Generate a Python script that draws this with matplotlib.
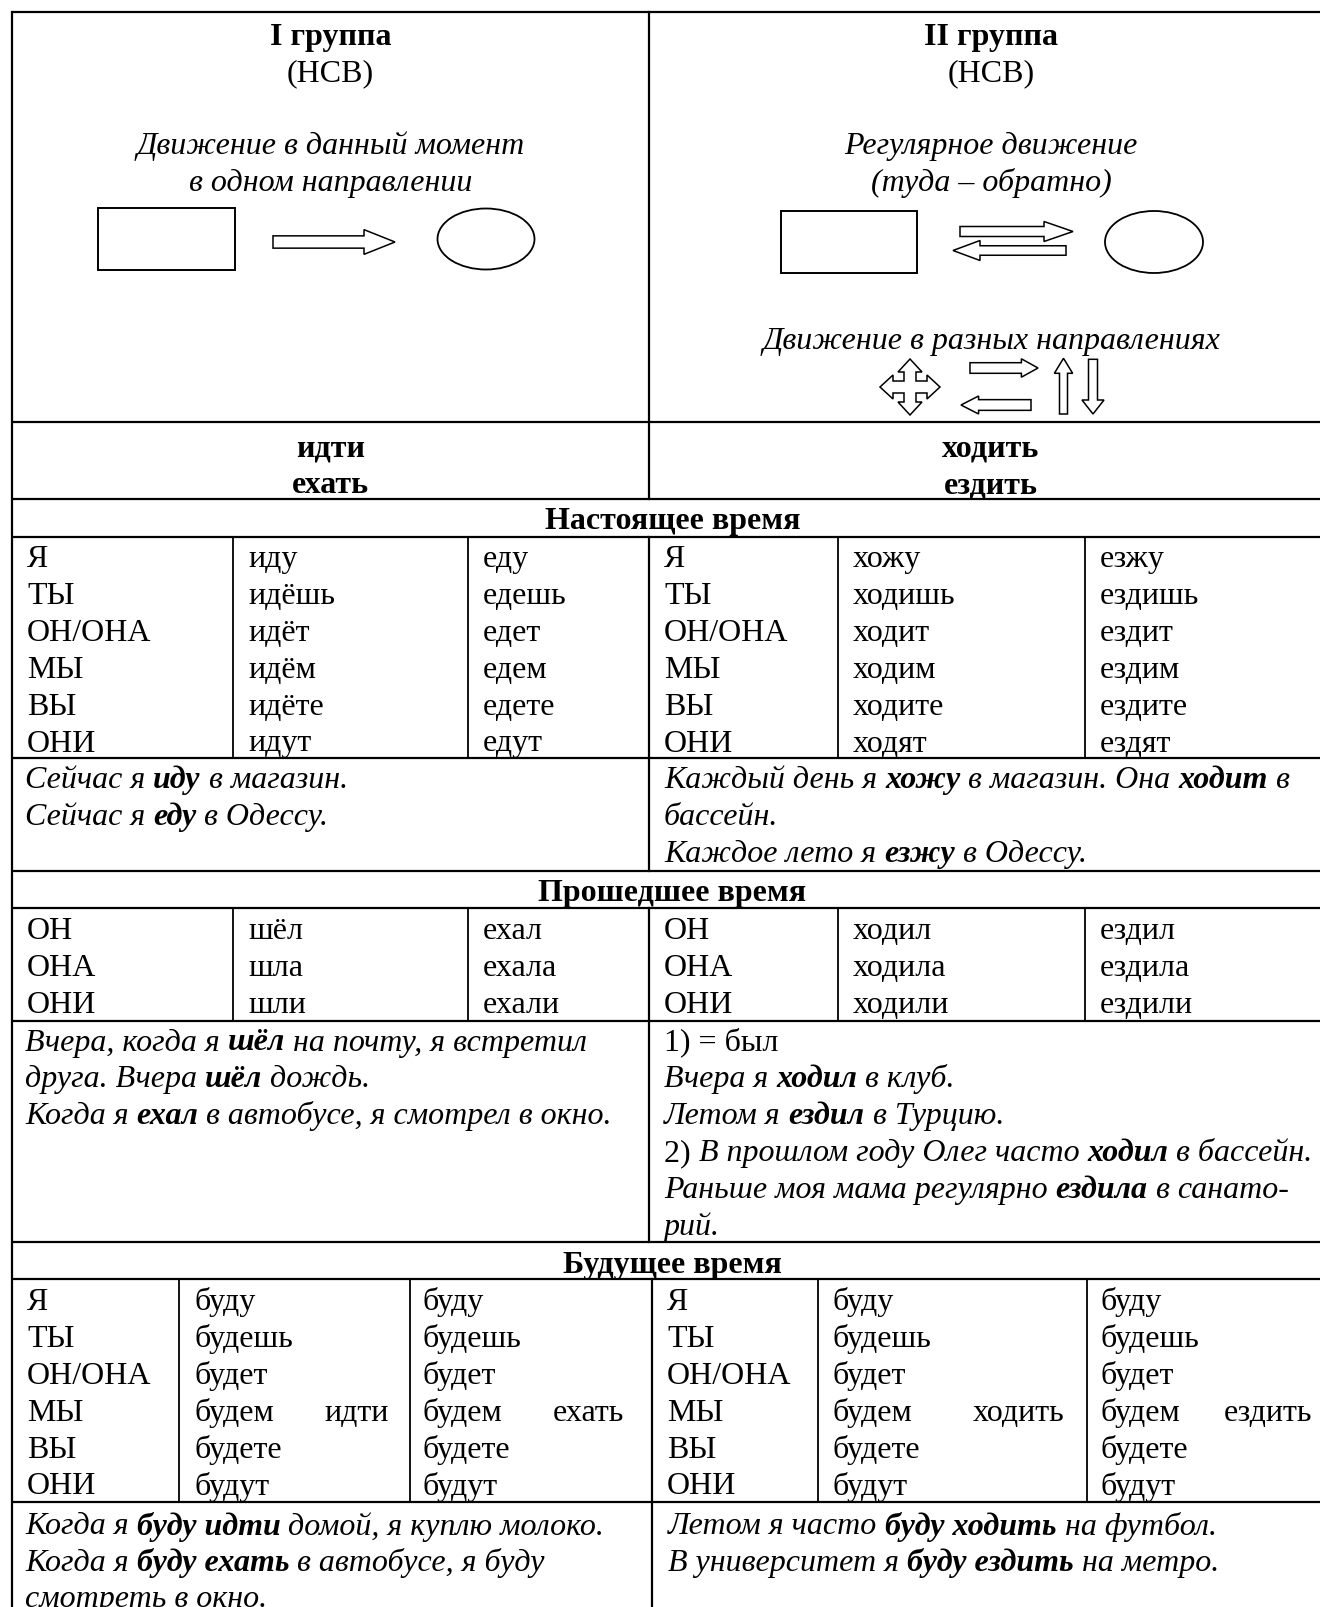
import matplotlib
matplotlib.use("Agg")
import matplotlib.pyplot as plt
from matplotlib import patches
from matplotlib.font_manager import FontProperties

W, H = 1320, 1607
FS = 23

# ---------------- data ----------------
group_titles = ["I группа", "II группа"]
aspect_label = "(НСВ)"
group_desc_left = ["Движение в данный момент", "в одном направлении"]
group_desc_right = ["Регулярное движение", "(туда – обратно)"]
multi_dir_label = "Движение в разных направлениях"
verbs_left = ["идти", "ехать"]
verbs_right = ["ходить", "ездить"]
tense_titles = ["Настоящее время", "Прошедшее время", "Будущее время"]

present_pronouns = ["Я", "ТЫ", "ОН/ОНА", "МЫ", "ВЫ", "ОНИ"]
present_idti = ["иду", "идёшь", "идёт", "идём", "идёте", "идут"]
present_ehat = ["еду", "едешь", "едет", "едем", "едете", "едут"]
present_hodit = ["хожу", "ходишь", "ходит", "ходим", "ходите", "ходят"]
present_ezdit = ["езжу", "ездишь", "ездит", "ездим", "ездите", "ездят"]

past_pronouns = ["ОН", "ОНА", "ОНИ"]
past_idti = ["шёл", "шла", "шли"]
past_ehat = ["ехал", "ехала", "ехали"]
past_hodit = ["ходил", "ходила", "ходили"]
past_ezdit = ["ездил", "ездила", "ездили"]

future_pronouns = ["Я", "ТЫ", "ОН/ОНА", "МЫ", "ВЫ", "ОНИ"]
future_aux = ["буду", "будешь", "будет", "будем", "будете", "будут"]
future_inf = ["идти", "ехать", "ходить", "ездить"]
future_inf_row = 3

# example sentences: (text, style)  i = italic, bi = bold italic, n = normal
present_ex_left = [[("Сейчас я ", "i"), ("иду", "bi"), (" в магазин.", "i")],
                   [("Сейчас я ", "i"), ("еду", "bi"), (" в Одессу.", "i")]]
present_ex_right = [[("Каждый день я ", "i"), ("хожу", "bi"), (" в магазин. Она ", "i"),
                     ("ходит", "bi"), (" в", "i")],
                    [("бассейн.", "i")],
                    [("Каждое лето я ", "i"), ("езжу", "bi"), (" в Одессу.", "i")]]
past_ex_left = [[("Вчера, когда я ", "i"), ("шёл", "bi"), (" на почту, я встретил", "i")],
                [("друга. Вчера ", "i"), ("шёл", "bi"), (" дождь.", "i")],
                [("Когда я ", "i"), ("ехал", "bi"), (" в автобусе, я смотрел в окно.", "i")]]
past_ex_right = [[("1) = был", "n")],
                 [("Вчера я ", "i"), ("ходил", "bi"), (" в клуб.", "i")],
                 [("Летом я ", "i"), ("ездил", "bi"), (" в Турцию.", "i")],
                 [("2) ", "n"), ("В прошлом году Олег часто ", "i"), ("ходил", "bi"), (" в бассейн.", "i")],
                 [("Раньше моя мама регулярно ", "i"), ("ездила", "bi"), (" в санато-", "i")],
                 [("рий.", "i")]]
future_ex_left = [[("Когда я ", "i"), ("буду идти", "bi"), (" домой, я куплю молоко.", "i")],
                  [("Когда я ", "i"), ("буду ехать", "bi"), (" в автобусе, я буду", "i")],
                  [("смотреть в окно.", "i")]]
future_ex_right = [[("Летом я часто ", "i"), ("буду ходить", "bi"), (" на футбол.", "i")],
                   [("В университет я ", "i"), ("буду ездить", "bi"), (" на метро.", "i")]]

# ---------------- layout (pixels) ----------------
XL, XM, XR = 12, 649, 1333
PAD = 15
PITCH = 36.9
row_lines = [12, 422, 499, 537, 758, 871, 908, 1021, 1242, 1279, 1502]
cols_pp = [233, 468, 838, 1085]          # present / past sub-columns
cols_fut = [179, 410, 818, 1087]         # future sub-columns
XM_FUT = 652

fig = plt.figure(figsize=(W / 100, H / 100), dpi=100)
ax = fig.add_axes([0, 0, 1, 1])
ax.set_xlim(0, W)
ax.set_ylim(H, 0)
ax.axis("off")
renderer = fig.canvas.get_renderer()

props = {
    "n": FontProperties(family="Liberation Serif", size=FS),
    "b": FontProperties(family="Liberation Serif", size=FS, weight="bold"),
    "i": FontProperties(family="Liberation Serif", size=FS, style="italic"),
    "bi": FontProperties(family="Liberation Serif", size=FS, style="italic", weight="bold"),
}


def text_width(s, prop):
    w1, _, _ = renderer.get_text_width_height_descent("|" + s + "|", prop, ismath=False)
    w0, _, _ = renderer.get_text_width_height_descent("||", prop, ismath=False)
    return w1 - w0


def put(x, y, s, style="n", ha="left"):
    ax.text(x, y, s, fontproperties=props[style], ha=ha, va="baseline", color="black")


def rich(x, y, segments):
    for s, style in segments:
        put(x, y, s, style)
        x += text_width(s, props[style])


def rich_block(x, y0, lines, pitch=PITCH):
    for k, line in enumerate(lines):
        rich(x, y0 + k * pitch, line)


def column(x, y0, words, style="n"):
    for k, w in enumerate(words):
        put(x, y0 + k * PITCH, w, style)


def harrow(x0, x1, y, sh, hh, hl):
    sgn = 1 if x1 > x0 else -1
    xb = x1 - sgn * hl
    pts = [(x0, y - sh / 2), (xb, y - sh / 2), (xb, y - hh / 2), (x1, y),
           (xb, y + hh / 2), (xb, y + sh / 2), (x0, y + sh / 2)]
    ax.add_patch(patches.Polygon(pts, closed=True, fc="white", ec="black", lw=1.1, joinstyle="miter"))


def varrow(x, y0, y1, sw, hw, hl):
    sgn = 1 if y1 > y0 else -1
    yb = y1 - sgn * hl
    pts = [(x - sw / 2, y0), (x - sw / 2, yb), (x - hw / 2, yb), (x, y1),
           (x + hw / 2, yb), (x + sw / 2, yb), (x + sw / 2, y0)]
    ax.add_patch(patches.Polygon(pts, closed=True, fc="white", ec="black", lw=1.1, joinstyle="miter"))


def cross_arrow(cx, cy, rx, ry, a, b, hl):
    pts = [(cx + rx, cy), (cx + rx - hl, cy + b), (cx + rx - hl, cy + a), (cx + a, cy + a),
           (cx + a, cy + ry - hl), (cx + b, cy + ry - hl), (cx, cy + ry), (cx - b, cy + ry - hl),
           (cx - a, cy + ry - hl), (cx - a, cy + a), (cx - rx + hl, cy + a), (cx - rx + hl, cy + b),
           (cx - rx, cy), (cx - rx + hl, cy - b), (cx - rx + hl, cy - a), (cx - a, cy - a),
           (cx - a, cy - ry + hl), (cx - b, cy - ry + hl), (cx, cy - ry), (cx + b, cy - ry + hl),
           (cx + a, cy - ry + hl), (cx + a, cy - a), (cx + rx - hl, cy - a), (cx + rx - hl, cy - b)]
    ax.add_patch(patches.Polygon(pts, closed=True, fc="white", ec="black", lw=1.1, joinstyle="miter"))


# ---------------- grid ----------------
LW = 1.6
for y in row_lines:
    ax.plot([XL, XR], [y, y], color="black", lw=LW, solid_capstyle="butt")
ax.plot([XL, XL], [row_lines[0], H], color="black", lw=LW)
ax.plot([XR, XR], [row_lines[0], H], color="black", lw=LW)
# middle divider (interrupted by tense titles)
for y0, y1 in [(12, 499), (537, 871), (908, 1242)]:
    ax.plot([XM, XM], [y0, y1], color="black", lw=LW)
ax.plot([XM_FUT, XM_FUT], [1279, H], color="black", lw=LW)
for y0, y1 in [(537, 758), (908, 1021)]:
    for xc in cols_pp:
        ax.plot([xc, xc], [y0, y1], color="black", lw=1.3)
for xc in cols_fut:
    ax.plot([xc, xc], [1279, 1502], color="black", lw=1.3)

# ---------------- header ----------------
cl, cr = (XL + XM) / 2, (XM + XR) / 2
put(cl, 44.5, group_titles[0], "b", "center")
put(cr, 44.5, group_titles[1], "b", "center")
put(cl, 81.5, aspect_label, "n", "center")
put(cr, 81.5, aspect_label, "n", "center")
for k, s in enumerate(group_desc_left):
    put(cl, 154 + k * PITCH, s, "i", "center")
for k, s in enumerate(group_desc_right):
    put(cr, 154 + k * PITCH, s, "i", "center")
put(cr, 349.5, multi_dir_label, "i", "center")

# diagrams
ax.add_patch(patches.Rectangle((98, 208), 137, 62, fc="white", ec="black", lw=1.4))
ax.add_patch(patches.Ellipse((486, 239), 97, 61, fc="white", ec="black", lw=1.3))
harrow(273, 395, 242, 12.3, 24.7, 31)

ax.add_patch(patches.Rectangle((781, 211), 136, 62, fc="white", ec="black", lw=1.4))
ax.add_patch(patches.Ellipse((1154, 242), 98, 62, fc="white", ec="black", lw=1.3))
harrow(960, 1073, 231.5, 10, 20, 29)
harrow(1066, 953, 250.5, 9.5, 20, 27)

cross_arrow(910, 387, 30, 28, 6, 12, 13)
harrow(970, 1038, 368, 10.6, 18.4, 16.6)
harrow(1031, 961, 405, 10.7, 18, 17.6)
varrow(1063.5, 414, 358.3, 8, 18.3, 15)
varrow(1093, 359.3, 414, 9, 22, 14)

# verbs
for k in range(2):
    put(cl, 456.5 + k * PITCH, verbs_left[k], "b", "center")
    put(cr, 456.5 + k * PITCH, verbs_right[k], "b", "center")

# ---------------- present ----------------
put((XL + XR) / 2, 529, tense_titles[0], "b", "center")
column(XL + PAD, 567, present_pronouns)
column(cols_pp[0] + PAD, 567, present_idti)
column(cols_pp[1] + PAD, 567, present_ehat)
column(XM + PAD, 567, present_pronouns)
column(cols_pp[2] + PAD, 567, present_hodit)
column(cols_pp[3] + PAD, 567, present_ezdit)
rich_block(XL + 13, 788.3, present_ex_left)
rich_block(XM + 15, 788.3, present_ex_right)

# ---------------- past ----------------
put((XL + XR) / 2, 901, tense_titles[1], "b", "center")
column(XL + PAD, 939, past_pronouns)
column(cols_pp[0] + PAD, 939, past_idti)
column(cols_pp[1] + PAD, 939, past_ehat)
column(XM + PAD, 939, past_pronouns)
column(cols_pp[2] + PAD, 939, past_hodit)
column(cols_pp[3] + PAD, 939, past_ezdit)
rich_block(XL + 13, 1050.5, past_ex_left)
rich_block(XM + 15, 1050.5, past_ex_right)

# ---------------- future ----------------
put((XL + XR) / 2, 1273, tense_titles[2], "b", "center")
column(XL + PAD, 1310, future_pronouns)
column(cols_fut[0] + PAD, 1310, future_aux)
column(cols_fut[1] + 12, 1310, future_aux)
column(XM_FUT + PAD, 1310, future_pronouns)
column(cols_fut[2] + PAD, 1310, future_aux)
column(cols_fut[3] + 13, 1310, future_aux)
inf_right_edges = [cols_fut[1] - 21, XM_FUT - 28, cols_fut[3] - 23, XR - 21]
yi = 1310 + future_inf_row * PITCH
for s, xr in zip(future_inf, inf_right_edges):
    put(xr, yi, s, "n", "right")
rich_block(XL + 13, 1534.5, future_ex_left, 36.5)
rich_block(XM_FUT + 16, 1534.5, future_ex_right, 36.5)

fig.savefig("out.png", dpi=100)
